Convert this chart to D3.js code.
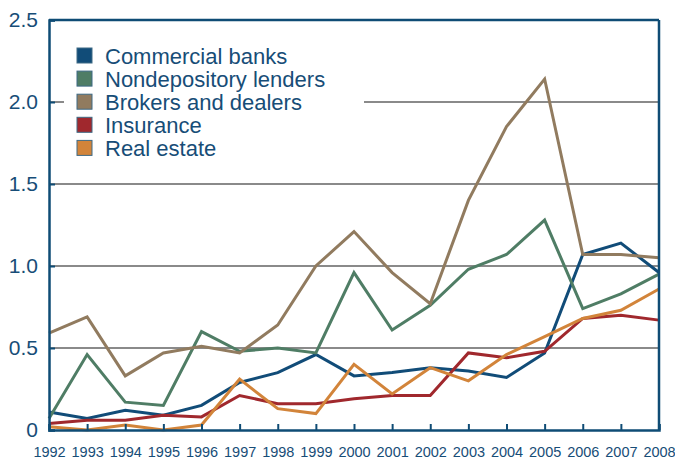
<!DOCTYPE html>
<html>
<head>
<meta charset="utf-8">
<script src="https://cdn.jsdelivr.net/npm/d3@7/dist/d3.min.js"></script>
<style>
  html, body { margin: 0; padding: 0; background: #fff; }
  svg { display: block; font-family: Arial, "Liberation Sans", sans-serif; }
</style>
</head>
<body>
<svg id="chart" width="675" height="461"></svg>
<script>
// Years on the horizontal axis
const years = [1992, 1993, 1994, 1995, 1996, 1997, 1998, 1999, 2000,
               2001, 2002, 2003, 2004, 2005, 2006, 2007, 2008];

// Series values, one per year
const commercialBanks = [0.11, 0.07, 0.12, 0.09, 0.15, 0.29, 0.35, 0.46, 0.33,
                         0.35, 0.38, 0.36, 0.32, 0.47, 1.07, 1.14, 0.96];
const nondepositoryLenders = [0.07, 0.46, 0.17, 0.15, 0.60, 0.48, 0.50, 0.47, 0.96,
                              0.61, 0.76, 0.98, 1.07, 1.28, 0.74, 0.83, 0.95];
const brokersAndDealers = [0.59, 0.69, 0.33, 0.47, 0.51, 0.47, 0.64, 1.00, 1.21,
                           0.96, 0.77, 1.40, 1.85, 2.14, 1.07, 1.07, 1.05];
const insurance = [0.04, 0.06, 0.06, 0.09, 0.08, 0.21, 0.16, 0.16, 0.19,
                   0.21, 0.21, 0.47, 0.44, 0.48, 0.68, 0.70, 0.67];
const realEstate = [0.02, 0.00, 0.03, 0.00, 0.03, 0.31, 0.13, 0.10, 0.40,
                    0.22, 0.38, 0.30, 0.46, 0.57, 0.68, 0.73, 0.86];

const seriesNames = ["Commercial banks", "Nondepository lenders", "Brokers and dealers",
                     "Insurance", "Real estate"];
const seriesValues = [commercialBanks, nondepositoryLenders, brokersAndDealers,
                      insurance, realEstate];
const seriesColors = ["#114c78", "#4f7d65", "#917b5f", "#a0282d", "#d2843a"];

// Value-axis ticks and their labels
const yTicks = [0, 0.5, 1.0, 1.5, 2.0, 2.5];
const yTickLabels = ["0", "0.5", "1.0", "1.5", "2.0", "2.5"];

const axisColor = "#0f4c75";
const textColor = "#174d77";
const gridColor = "#8a8a8a";

const margin = { top: 20, right: 16, bottom: 31, left: 49 };
const width = 675, height = 461;
const innerW = width - margin.left - margin.right;
const innerH = height - margin.top - margin.bottom;

const svg = d3.select("#chart");
const g = svg.append("g").attr("transform", `translate(${margin.left},${margin.top})`);

const x = d3.scalePoint().domain(years).range([0, innerW]);
const y = d3.scaleLinear().domain([0, 2.5]).range([innerH, 0]);

// Horizontal gridlines
g.append("g")
  .selectAll("line")
  .data(yTicks.filter(t => t > 0 && t < 2.5))
  .join("line")
  .attr("x1", 0).attr("x2", innerW)
  .attr("y1", d => y(d)).attr("y2", d => y(d))
  .attr("stroke", gridColor)
  .attr("stroke-width", 2);

// Series lines
const line = d3.line()
  .x((d, i) => x(years[i]))
  .y(d => y(d));

g.append("g")
  .selectAll("path")
  .data(seriesValues)
  .join("path")
  .attr("d", d => line(d))
  .attr("fill", "none")
  .attr("stroke", (d, i) => seriesColors[i])
  .attr("stroke-width", 3)
  .attr("stroke-linejoin", "miter");

// Frame: top and right edges
g.append("line")
  .attr("x1", 0).attr("x2", innerW).attr("y1", 0).attr("y2", 0)
  .attr("stroke", axisColor).attr("stroke-width", 2.5);
g.append("line")
  .attr("x1", innerW).attr("x2", innerW).attr("y1", 0).attr("y2", innerH)
  .attr("stroke", axisColor).attr("stroke-width", 2.5);

// Left axis with inward ticks
const yAxis = d3.axisLeft(y)
  .tickValues(yTicks)
  .tickSize(-6)
  .tickPadding(11)
  .tickFormat((d, i) => yTickLabels[i]);

const yg = g.append("g").call(yAxis);
yg.select(".domain").attr("stroke", axisColor).attr("stroke-width", 2.5);
yg.selectAll(".tick line").attr("stroke", axisColor).attr("stroke-width", 2);
yg.selectAll(".tick text")
  .attr("fill", textColor)
  .attr("font-size", 21)
  .attr("font-family", "Arial, 'Liberation Sans', sans-serif");

// Bottom axis with inward ticks
const xAxis = d3.axisBottom(x)
  .tickSize(-6)
  .tickPadding(17)
  .tickFormat(d => String(d));

const xg = g.append("g").attr("transform", `translate(0,${innerH})`).call(xAxis);
xg.select(".domain").attr("stroke", axisColor).attr("stroke-width", 2.5);
xg.selectAll(".tick line").attr("stroke", axisColor).attr("stroke-width", 2);
xg.selectAll(".tick text")
  .attr("fill", textColor)
  .attr("font-size", 14.5)
  .attr("font-family", "Arial, 'Liberation Sans', sans-serif");

// Legend on a white panel
const legend = g.append("g").attr("transform", "translate(15,22)");
legend.append("rect")
  .attr("x", 0).attr("y", 0)
  .attr("width", 300).attr("height", 124)
  .attr("fill", "#fff");

const rows = legend.selectAll("g.row")
  .data(seriesNames)
  .join("g")
  .attr("class", "row")
  .attr("transform", (d, i) => `translate(13,${6 + i * 23.1})`);

rows.append("rect")
  .attr("width", 15).attr("height", 15)
  .attr("fill", (d, i) => seriesColors[i])
  .attr("stroke", "#3e6a85")
  .attr("stroke-width", 1);

rows.append("text")
  .attr("x", 28).attr("y", 8)
  .attr("dy", "0.35em")
  .attr("fill", textColor)
  .attr("font-size", 22)
  .text(d => d);
</script>
</body>
</html>
